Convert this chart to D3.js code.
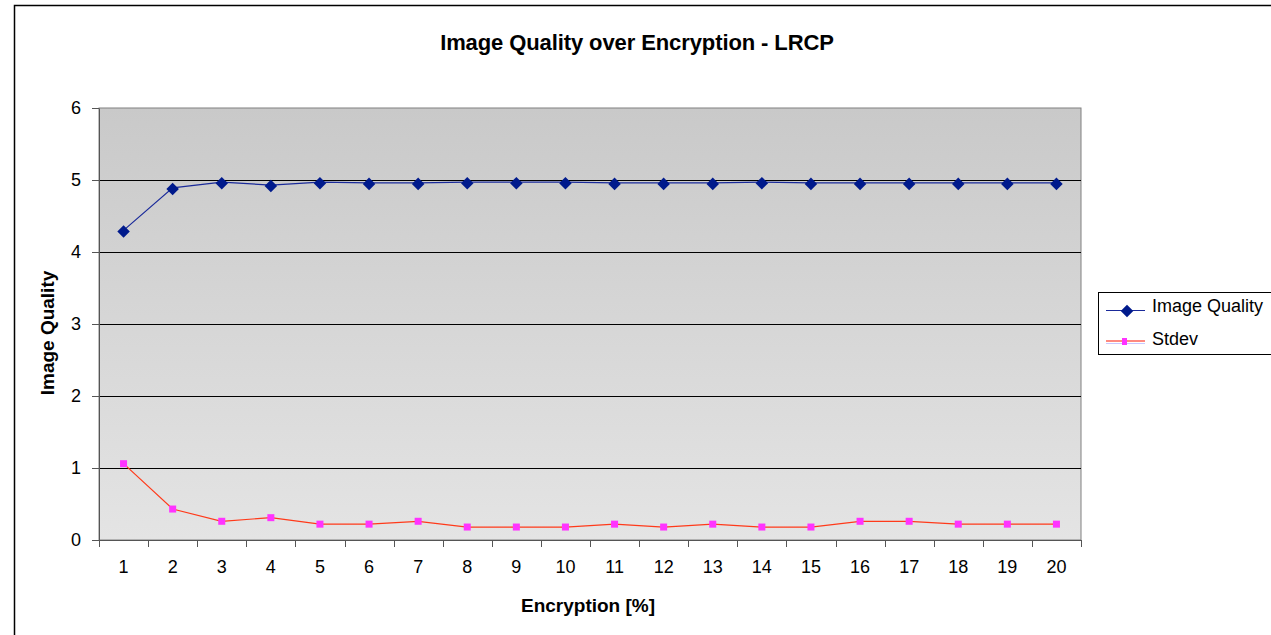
<!DOCTYPE html>
<html><head><meta charset="utf-8">
<script src="https://cdn.jsdelivr.net/npm/d3@7"></script>
<style>body{margin:0;background:#fff}svg{display:block;font-family:"Liberation Sans",Arial,sans-serif}</style>
</head><body><svg id="c" width="1271" height="635"></svg>
<script>
const categories = ["1","2","3","4","5","6","7","8","9","10","11","12","13","14","15","16","17","18","19","20"];
const imageQuality = [4.30,4.89,4.97,4.93,4.97,4.96,4.96,4.97,4.97,4.97,4.96,4.96,4.96,4.97,4.96,4.96,4.96,4.96,4.96,4.96];
const stdev = [1.06,0.43,0.26,0.31,0.22,0.22,0.26,0.18,0.18,0.18,0.22,0.18,0.22,0.18,0.18,0.26,0.26,0.22,0.22,0.22];
const yTicks = [0,1,2,3,4,5,6];
const seriesNames = ["Image Quality","Stdev"];

const svg = d3.select("#c");
const L=99, R=1081, T=108, B=540;
const x = d3.scaleBand().domain(categories).range([L,R]);
const y = d3.scaleLinear().domain([0,6]).range([B,T]);
const FONT = "Liberation Sans, Arial, sans-serif";

// outer frame
svg.append("path").attr("d","M14.5,640 V5.5 H1280").attr("fill","none").attr("stroke","#000").attr("stroke-width",1.5);

// gradient
const defs = svg.append("defs");
const g = defs.append("linearGradient").attr("id","bg").attr("x1",0).attr("y1",0).attr("x2",0).attr("y2",1);
g.append("stop").attr("offset","0%").attr("stop-color","#c9c9c9");
g.append("stop").attr("offset","100%").attr("stop-color","#e4e4e4");
svg.append("rect").attr("x",L).attr("y",T).attr("width",R-L).attr("height",B-T).attr("fill","url(#bg)").attr("stroke","#808080").attr("stroke-width",1);

// gridlines
svg.append("g").selectAll("line").data(yTicks.filter(d=>d>0&&d<6)).join("line")
  .attr("x1",L).attr("x2",R).attr("y1",d=>Math.round(y(d))+0.5).attr("y2",d=>Math.round(y(d))+0.5)
  .attr("stroke","#000").attr("stroke-width",1);

// y axis
const ya = svg.append("g").attr("transform",`translate(${L},0)`)
  .call(d3.axisLeft(y).tickValues(yTicks).tickFormat(d3.format("d")).tickSize(7).tickSizeOuter(0).tickPadding(11));
ya.select(".domain").attr("stroke","#555");
ya.selectAll(".tick line").attr("stroke","#555");
ya.selectAll("text").attr("font-size",18).attr("fill","#000").attr("font-family",FONT);

// x axis with ticks at band edges
const xa = svg.append("g").attr("transform",`translate(0,${B})`)
  .call(d3.axisBottom(x).tickSize(0).tickPadding(20));
xa.select(".domain").attr("stroke","#555");
xa.selectAll("text").attr("font-size",18).attr("fill","#000").attr("font-family",FONT);
svg.append("g").selectAll("line").data(categories.concat(["end"])).join("line")
  .attr("x1",(d,i)=>Math.round(L+i*x.bandwidth())+0.5).attr("x2",(d,i)=>Math.round(L+i*x.bandwidth())+0.5)
  .attr("y1",B).attr("y2",B+7).attr("stroke","#555");

// lines
const cx = d=>x(d)+x.bandwidth()/2;
const line = d3.line().x((d,i)=>cx(categories[i])).y(d=>y(d));
svg.append("path").datum(imageQuality).attr("d",line).attr("fill","none").attr("stroke","#1a2a9a").attr("stroke-width",1.2);
svg.append("path").datum(stdev).attr("d",line).attr("fill","none").attr("stroke","#ff3a1a").attr("stroke-width",1.2);

// markers
const diamond = d3.symbol().type(d3.symbolDiamond2).size(100);
svg.append("g").selectAll("path").data(imageQuality).join("path")
  .attr("d",diamond).attr("transform",(d,i)=>`translate(${cx(categories[i])},${y(d)+1})`).attr("fill","#001a8c");
svg.append("g").selectAll("rect").data(stdev).join("rect")
  .attr("x",(d,i)=>cx(categories[i])-3.5).attr("y",d=>y(d)-3.5).attr("width",7).attr("height",7).attr("fill","#ff33ff");

// titles
svg.append("text").attr("x",637).attr("y",50).attr("text-anchor","middle").attr("font-size",22).attr("font-weight","bold").attr("letter-spacing","-0.1").text("Image Quality over Encryption - LRCP");
svg.append("text").attr("x",588).attr("y",612).attr("text-anchor","middle").attr("font-size",19).attr("font-weight","bold").text("Encryption [%]");
svg.append("text").attr("transform","translate(54,333) rotate(-90)").attr("text-anchor","middle").attr("font-size",19).attr("font-weight","bold").text("Image Quality");

// legend
const lg = svg.append("g");
lg.append("rect").attr("x",1098.5).attr("y",292.5).attr("width",190).attr("height",62).attr("fill","#fff").attr("stroke","#000");
const ly=[310,341];
lg.append("line").attr("x1",1106).attr("x2",1145).attr("y1",ly[0]+0.5).attr("y2",ly[0]+0.5).attr("stroke","#1a2a9a").attr("stroke-width",1.2);
lg.append("path").attr("d",diamond).attr("transform",`translate(1127,${ly[0]+1})`).attr("fill","#001a8c");
lg.append("line").attr("x1",1106).attr("x2",1145).attr("y1",ly[1]).attr("y2",ly[1]).attr("stroke","#ff8a80").attr("stroke-width",2);
lg.append("line").attr("x1",1106).attr("x2",1145).attr("y1",ly[1]+2.5).attr("y2",ly[1]+2.5).attr("stroke","#c8c8ff").attr("stroke-width",1);
lg.append("rect").attr("x",1122).attr("y",ly[1]-3).attr("width",5).attr("height",7).attr("fill","#ff33ff");
lg.selectAll("text.l").data(seriesNames).join("text").attr("class","l")
  .attr("x",1152).attr("y",(d,i)=>[312,345][i]).attr("font-size",18).attr("letter-spacing","0").text(d=>d);
</script></body></html>
